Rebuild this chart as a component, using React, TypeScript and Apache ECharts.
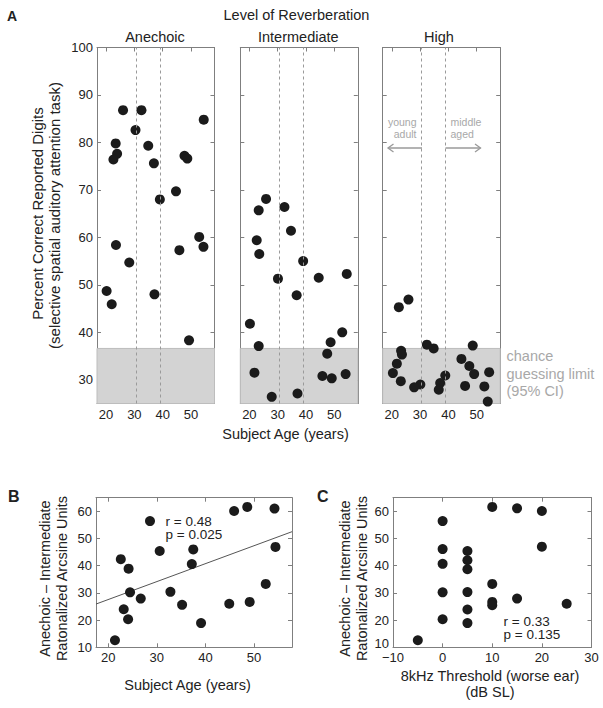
import React, { useEffect, useRef } from "react";
import * as echarts from "echarts";

// ---------- data ----------
const anechoicAge = [26.0, 32.5, 30.4, 54.5, 23.4, 34.9, 23.9, 22.6, 47.7, 48.7, 36.9, 44.7, 39.0, 52.9, 54.4, 45.9, 23.5, 28.2, 20.2, 22.0, 37.1, 49.3];
const anechoicPct = [86.8, 86.8, 82.6, 84.8, 79.8, 79.3, 77.6, 76.4, 77.2, 76.6, 75.6, 69.7, 68.0, 60.1, 58.0, 57.3, 58.4, 54.7, 48.7, 45.9, 48.0, 38.3];

const intermediateAge = [25.9, 23.3, 32.4, 34.7, 22.6, 23.5, 39.0, 30.1, 44.5, 54.4, 36.7, 20.2, 52.8, 23.3, 48.7, 47.5, 21.8, 45.8, 49.1, 54.0, 27.9, 37.0];
const intermediatePct = [68.1, 65.7, 66.4, 61.4, 59.4, 56.5, 55.0, 51.3, 51.5, 52.3, 47.8, 41.8, 40.0, 37.1, 37.9, 35.5, 31.5, 30.8, 30.3, 31.2, 26.4, 27.1];

const highAge = [22.5, 25.9, 32.4, 34.8, 48.6, 23.3, 23.6, 21.8, 20.4, 23.2, 44.6, 47.4, 49.1, 54.4, 38.9, 30.1, 27.9, 37.1, 36.6, 45.9, 52.7, 53.9];
const highPct = [45.3, 46.9, 37.4, 36.6, 37.2, 36.1, 35.3, 33.4, 31.4, 29.7, 34.4, 32.9, 31.2, 31.6, 30.9, 29.0, 28.4, 29.3, 27.9, 28.7, 28.6, 25.4];

const diffAge = [21.4, 22.6, 24.2, 23.2, 24.1, 24.5, 26.7, 28.6, 30.6, 32.8, 35.2, 37.5, 37.2, 39.1, 45.9, 48.6, 54.2, 44.9, 49.1, 52.4, 54.4];
const diffByAge = [12.6, 42.4, 38.9, 24.0, 20.3, 30.2, 27.9, 56.4, 45.4, 30.4, 25.6, 46.0, 40.6, 18.9, 60.1, 61.6, 61.0, 26.0, 26.7, 33.3, 46.9];

const threshold8k = [-5, 0, 0, 0, 0, 0, 5, 5, 5, 5, 5, 5, 10, 10, 10, 10, 15, 15, 20, 20, 25];
const diffByThreshold = [12.6, 56.4, 46.1, 40.7, 30.2, 20.3, 45.4, 42.0, 38.7, 30.3, 23.9, 18.9, 61.6, 33.3, 26.7, 25.5, 61.1, 27.9, 60.1, 47.0, 26.0];

const fitAge = [17.5, 57.8];
const fitDiff = [25.9, 52.5];

const ageBoundaries = [30.5, 39];
const chanceLimit = 36.6;

const pctTicks = [30, 40, 50, 60, 70, 80, 90, 100];
const ageTicks = [20, 30, 40, 50];
const diffTicks = [10, 20, 30, 40, 50, 60];
const thresholdTicks = [-10, 0, 10, 20, 30];

const conditionNames = ["Anechoic", "Intermediate", "High"];

// ---------- styling ----------
const FONT = "Liberation Sans, Arial, Helvetica, sans-serif";
const AXIS_COLOR = "#7f7f7f";
const TEXT_COLOR = "#222";
const GRAY_TEXT = "#a8a8a8";
const DOT_COLOR = "#1b1b1b";

const zip = (a: number[], b: number[]) => a.map((v, i) => [v, b[i]]);

export default function App() {
  const ref = useRef<HTMLDivElement>(null);

  useEffect(() => {
    if (!ref.current) return;
    const chart = echarts.init(ref.current, null, { renderer: "svg" });

    const topGrids = [
      { left: 97, top: 47.5, width: 117.5, height: 356 },
      { left: 240.3, top: 47.5, width: 117.5, height: 356 },
      { left: 382.7, top: 47.5, width: 117.5, height: 356 },
    ];
    const bottomGrids = [
      { left: 96, top: 497.7, width: 196, height: 149.6 },
      { left: 393, top: 497.7, width: 198.5, height: 149.6 },
    ];
    const grids = [...topGrids, ...bottomGrids];

    const xAxes: any[] = [];
    const yAxes: any[] = [];

    const fmt = (v: number) => (v < 0 ? "\u2212" + Math.abs(v) : String(v));

    const addAxes = (
      gi: number,
      xMin: number,
      xMax: number,
      xTicks: number[],
      yMin: number,
      yMax: number,
      yTicks: number[],
      showYLabels: boolean,
      raiseMinY = false
    ) => {
      const common = {
        gridIndex: gi,
        type: "value",
        splitLine: { show: false },
        axisLine: { show: true, onZero: false, lineStyle: { color: AXIS_COLOR, width: 1 } },
      };
      const tick = (vals: number[]) => ({
        show: true,
        inside: true,
        length: 4,
        customValues: vals,
        lineStyle: { color: AXIS_COLOR, width: 1 },
      });
      xAxes.push({
        ...common,
        position: "bottom",
        min: xMin,
        max: xMax,
        axisTick: tick(xTicks),
        axisLabel: {
          show: true,
          customValues: xTicks,
          formatter: fmt,
          fontSize: 13,
          fontFamily: FONT,
          color: TEXT_COLOR,
          margin: 4,
        },
      });
      xAxes.push({
        ...common,
        position: "top",
        min: xMin,
        max: xMax,
        axisTick: tick(xTicks),
        axisLabel: { show: false },
      });
      yAxes.push({
        ...common,
        position: "left",
        min: yMin,
        max: yMax,
        axisTick: tick(yTicks),
        axisLabel: {
          show: showYLabels,
          customValues: yTicks,
          formatter: (v: number) => (raiseMinY && v === yMin ? "{up|" + v + "}" : String(v)),
          rich: { up: { fontSize: 13, fontFamily: FONT, color: TEXT_COLOR, padding: [0, 0, 7, 0] } },
          fontSize: 13,
          fontFamily: FONT,
          color: TEXT_COLOR,
          margin: 4,
        },
      });
      yAxes.push({
        ...common,
        position: "right",
        min: yMin,
        max: yMax,
        axisTick: tick(yTicks),
        axisLabel: { show: false },
      });
    };

    addAxes(0, 16.8, 58.3, ageTicks, 25, 100, pctTicks, true);
    addAxes(1, 16.8, 58.3, ageTicks, 25, 100, pctTicks, false);
    addAxes(2, 16.8, 58.3, ageTicks, 25, 100, pctTicks, false);
    addAxes(3, 17.5, 57.8, ageTicks, 10, 65, diffTicks, true);
    addAxes(4, -10, 30, thresholdTicks, 10, 65, diffTicks, true, true);

    const topData = [
      zip(anechoicAge, anechoicPct),
      zip(intermediateAge, intermediatePct),
      zip(highAge, highPct),
    ];

    const series: any[] = [];
    topData.forEach((d, i) => {
      // background: chance region + age boundaries
      series.push({
        type: "line",
        name: conditionNames[i] + " markers",
        xAxisIndex: 2 * i,
        yAxisIndex: 2 * i,
        data: [],
        z: 1,
        silent: true,
        markArea: {
          silent: true,
          itemStyle: { color: "#d3d3d3", borderColor: "#bdbdbd", borderWidth: 1 },
          data: [[{ yAxis: 25 }, { yAxis: chanceLimit }]],
        },
        markLine: {
          silent: true,
          symbol: "none",
          label: { show: false },
          lineStyle: { color: "#9a9a9a", type: [3, 3], width: 1 },
          data: ageBoundaries.map((a) => ({ xAxis: a })),
        },
      });
      series.push({
        type: "scatter",
        name: conditionNames[i],
        xAxisIndex: 2 * i,
        yAxisIndex: 2 * i,
        data: d,
        symbolSize: 10,
        itemStyle: { color: DOT_COLOR, opacity: 1 },
        z: 3,
        clip: false,
      });
    });

    series.push({
      type: "line",
      name: "fit",
      xAxisIndex: 6,
      yAxisIndex: 6,
      data: zip(fitAge, fitDiff),
      symbol: "none",
      lineStyle: { color: "#555", width: 1 },
      z: 2,
    });
    series.push({
      type: "scatter",
      name: "diff vs age",
      xAxisIndex: 6,
      yAxisIndex: 6,
      data: zip(diffAge, diffByAge),
      symbolSize: 10,
      itemStyle: { color: DOT_COLOR, opacity: 1 },
      z: 3,
    });
    series.push({
      type: "scatter",
      name: "diff vs threshold",
      xAxisIndex: 8,
      yAxisIndex: 8,
      data: zip(threshold8k, diffByThreshold),
      symbolSize: 10,
      itemStyle: { color: DOT_COLOR, opacity: 1 },
      z: 3,
    });

    const txt = (
      text: string,
      x: number,
      y: number,
      opts: { size?: number; align?: string; color?: string; bold?: boolean; rotate?: boolean } = {}
    ) => ({
      type: "text",
      x,
      y,
      rotation: opts.rotate ? Math.PI / 2 : 0,
      silent: true,
      style: {
        text,
        fill: opts.color || TEXT_COLOR,
        fontSize: opts.size || 14.5,
        fontFamily: FONT,
        fontWeight: opts.bold ? "bold" : "normal",
        align: opts.align || "center",
        verticalAlign: "middle",
      },
    });

    const arrowStyle = { stroke: "#9a9a9a", lineWidth: 1.3, fill: null };

    const graphic: any[] = [
      txt("A", 7, 16, { size: 14, bold: true, align: "left" }),
      txt("Level of Reverberation", 296.5, 15),
      txt(conditionNames[0], 155, 37),
      txt(conditionNames[1], 298.3, 37),
      txt(conditionNames[2], 439, 37),
      txt("Percent Correct Reported Digits", 37.5, 213.5, { size: 15, rotate: true }),
      txt("(selective spatial auditory attention task)", 54, 215.5, { size: 15, rotate: true }),
      txt("Subject Age (years)", 285.5, 433.5),
      txt("chance", 506.5, 356, { align: "left", color: GRAY_TEXT }),
      txt("guessing limit", 506.5, 373.5, { align: "left", color: GRAY_TEXT }),
      txt("(95% CI)", 506.5, 391, { align: "left", color: GRAY_TEXT }),
      txt("young", 416.5, 121.5, { size: 10.5, align: "right", color: GRAY_TEXT }),
      txt("adult", 416.5, 134, { size: 10.5, align: "right", color: GRAY_TEXT }),
      txt("middle", 450.5, 121.5, { size: 10.5, align: "left", color: GRAY_TEXT }),
      txt("aged", 450.5, 134, { size: 10.5, align: "left", color: GRAY_TEXT }),
      { type: "line", silent: true, shape: { x1: 422, y1: 148, x2: 388, y2: 148 }, style: arrowStyle },
      { type: "polyline", silent: true, shape: { points: [[393.5, 144], [388, 148], [393.5, 152]] }, style: arrowStyle },
      { type: "line", silent: true, shape: { x1: 445.5, y1: 148, x2: 480.5, y2: 148 }, style: arrowStyle },
      { type: "polyline", silent: true, shape: { points: [[475, 144], [480.5, 148], [475, 152]] }, style: arrowStyle },

      txt("B", 8, 496, { size: 16, bold: true, align: "left" }),
      txt("Anechoic \u2013 Intermediate", 45, 578.5, { rotate: true }),
      txt("Ratonalized Arcsine Units", 61.5, 578.5, { rotate: true }),
      txt("r = 0.48", 165.5, 521, { size: 13.5, align: "left" }),
      txt("p = 0.025", 165.5, 534.5, { size: 13.5, align: "left" }),
      txt("Subject Age (years)", 187.5, 685),

      txt("C", 317, 496, { size: 16, bold: true, align: "left" }),
      txt("Anechoic \u2013 Intermediate", 345, 578.5, { rotate: true }),
      txt("Ratonalized Arcsine Units", 361.5, 578.5, { rotate: true }),
      txt("r = 0.33", 503.5, 621, { size: 13.5, align: "left" }),
      txt("p = 0.135", 503.5, 634.5, { size: 13.5, align: "left" }),
      txt("8kHz Threshold (worse ear)", 490, 676),
      txt("(dB SL)", 490, 692),
    ];

    chart.setOption({
      animation: false,
      backgroundColor: "#fff",
      textStyle: { fontFamily: FONT },
      grid: grids.map((g) => ({ ...g, containLabel: false, show: false })),
      xAxis: xAxes,
      yAxis: yAxes,
      series,
      graphic,
    });

    return () => chart.dispose();
  }, []);

  return (
    <div
      ref={ref}
      style={{ position: "absolute", left: 0, top: 0, width: 603, height: 708, background: "#fff" }}
    />
  );
}
